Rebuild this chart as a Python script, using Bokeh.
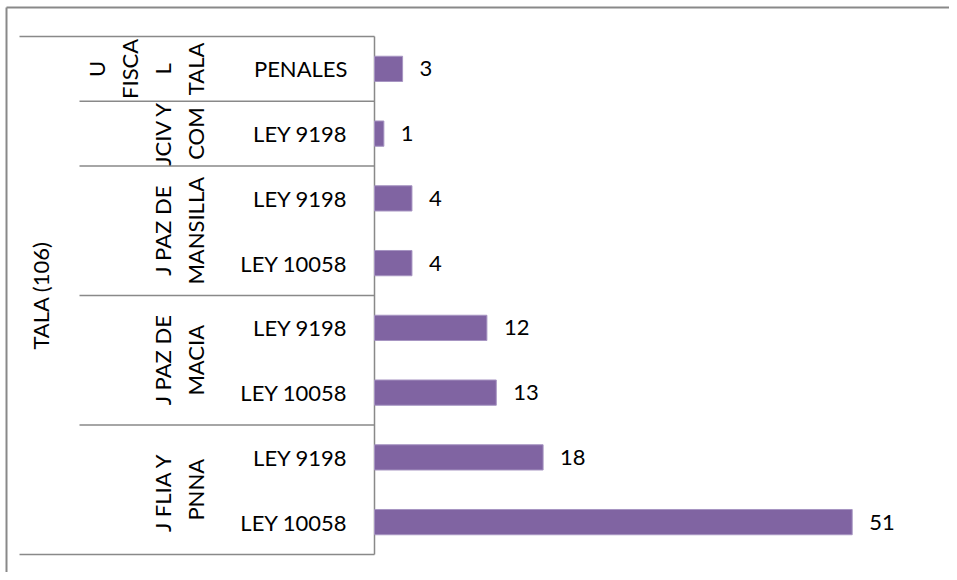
import math
from bokeh.plotting import figure
from bokeh.models import Range1d, Label, Whisker, ColumnDataSource
from bokeh.core.properties import value
from bokeh.embed import file_html
from bokeh.resources import INLINE

# ---- data (top to bottom) ----
outer_label = "TALA (106)"
groups = ["U FISCAL TALA", "JCIV Y COM", "J PAZ DE MANSILLA", "J PAZ DE MANSILLA",
          "J PAZ DE MACIA", "J PAZ DE MACIA", "J FLIA Y PNNA", "J FLIA Y PNNA"]
laws = ["PENALES", "LEY 9198", "LEY 9198", "LEY 10058",
        "LEY 9198", "LEY 10058", "LEY 9198", "LEY 10058"]
counts = [3, 1, 4, 4, 12, 13, 18, 51]
group_order = ["U FISCAL TALA", "JCIV Y COM", "J PAZ DE MANSILLA", "J PAZ DE MACIA", "J FLIA Y PNNA"]
group_lines = {
    "U FISCAL TALA": ["U", "FISCA", "L", "TALA"],
    "JCIV Y COM": ["JCIV Y", "COM"],
    "J PAZ DE MANSILLA": ["J PAZ DE", "MANSILLA"],
    "J PAZ DE MACIA": ["J PAZ DE", "MACIA"],
    "J FLIA Y PNNA": ["J FLIA  Y", "PNNA"],
}
x_max = 60

FONT = "Lato"
FS = "22px"
BAR = "#8064A2"
GRID = "#898989"

n = len(laws)
W, H = 949, 572
# plot area (pixels in canvas)
PX0, PX1 = 374, 936   # value 0 .. x_max
PY0, PY1 = 36, 554    # top row edge .. bottom row edge
sx = (PX1 - PX0) / x_max
row_h = (PY1 - PY0) / n

x_start = -PX0 / sx
x_end = x_max + (W - PX1) / sx
y_start = -0.5 - (H - PY1) / row_h
y_end = (n - 0.5) + PY0 / row_h

p = figure(width=W, height=H, output_backend="svg", toolbar_location=None,
           x_range=Range1d(x_start, x_end), y_range=Range1d(y_start, y_end),
           x_axis_location=None, y_axis_location=None,
           min_border=0, min_border_left=0, min_border_right=0,
           min_border_top=0, min_border_bottom=0)
p.outline_line_color = None
p.grid.visible = False
p.background_fill_color = "white"
p.border_fill_color = "white"

ypos = [n - 1 - i for i in range(n)]  # row order from the category list, top row first
src = ColumnDataSource(dict(y=ypos, counts=counts, txt=[str(c) for c in counts]))
p.hbar(y="y", right="counts", left=0, height=0.39, source=src,
       fill_color=BAR, line_color="#a795c2", line_width=1)
p.text(x="counts", y="y", text="txt", source=src, x_offset=17,
       text_baseline="middle", text_align="left",
       text_font=value(FONT), text_font_size=FS, text_color="black")

# inner category labels
for yv, law in zip(ypos, laws):
    p.add_layout(Label(x=347, y=yv, x_units="screen", y_units="data", text=law,
                       text_align="right", text_baseline="middle",
                       text_font=FONT, text_font_size=FS, text_color="black"))

# group labels
for g in group_order:
    ys = [yv for yv, gg in zip(ypos, groups) if gg == g]
    yc = sum(ys) / len(ys)
    lines = group_lines[g]
    for j, line in enumerate(lines):
        xs = 195 - 33 * (len(lines) - 1 - j)
        p.add_layout(Label(x=xs, y=yc, x_units="screen", y_units="data", text=line,
                           angle=math.pi / 2, text_align="center", text_baseline="middle",
                           text_font=FONT, text_font_size=FS, text_color="black"))

p.add_layout(Label(x=40, y=(n - 1) / 2, x_units="screen", y_units="data", text=outer_label,
                   angle=math.pi / 2, text_align="center", text_baseline="middle",
                   text_font=FONT, text_font_size=FS, text_color="black"))

# separators (category axis structure)
bounds = [n - 0.5]
for g in group_order:
    ys = [yv for yv, gg in zip(ypos, groups) if gg == g]
    bounds.append(min(ys) - 0.5)
base, lower, upper = [], [], []
for b in bounds:
    base.append(b)
    lower.append(19 if b in (-0.5, n - 0.5) else 79)
    upper.append(PX0)
sep = ColumnDataSource(dict(base=base, lower=lower, upper=upper))
p.add_layout(Whisker(source=sep, base="base", lower="lower", upper="upper", dimension="width",
                     base_units="data", lower_units="screen", upper_units="screen",
                     line_color=GRID, line_width=1.5, lower_head=None, upper_head=None))
# category axis line at value 0
axsrc = ColumnDataSource(dict(base=[0], lower=[-0.5], upper=[n - 0.5]))
p.add_layout(Whisker(source=axsrc, base="base", lower="lower", upper="upper", dimension="height",
                     line_color=GRID, line_width=1.5, lower_head=None, upper_head=None))

# outer chart border (top and left)
top_y = (n - 0.5) + (PY0 - 7) / row_h
bsrc_h = ColumnDataSource(dict(base=[top_y], lower=[6], upper=[W]))
p.add_layout(Whisker(source=bsrc_h, base="base", lower="lower", upper="upper", dimension="width",
                     base_units="data", lower_units="screen", upper_units="screen",
                     line_color=GRID, line_width=2, lower_head=None, upper_head=None))
bsrc_v = ColumnDataSource(dict(base=[6], lower=[y_start], upper=[top_y]))
p.add_layout(Whisker(source=bsrc_v, base="base", lower="lower", upper="upper", dimension="height",
                     base_units="screen", lower_units="data", upper_units="data",
                     line_color=GRID, line_width=2, lower_head=None, upper_head=None))

open("out.html", "w").write(file_html(p, INLINE))
